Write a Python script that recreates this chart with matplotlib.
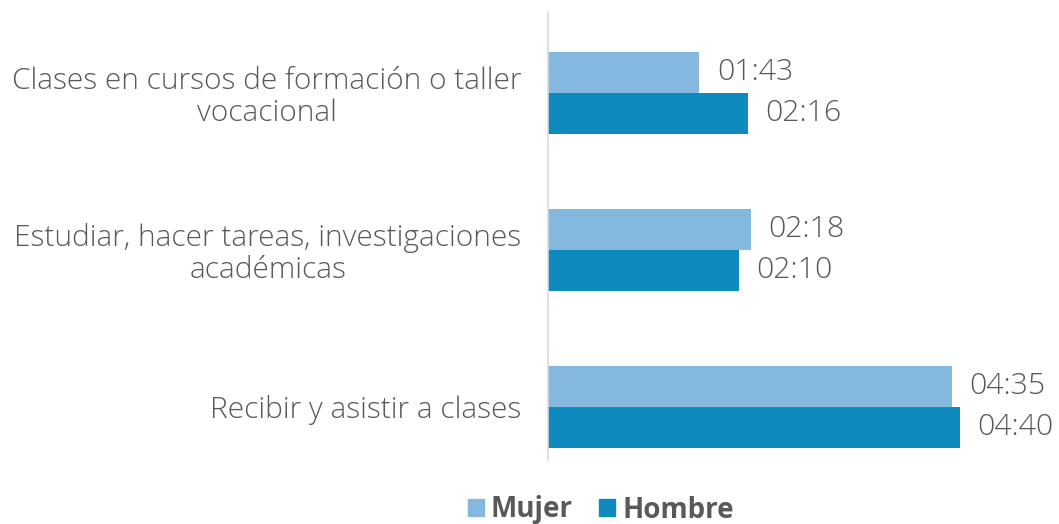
import matplotlib
matplotlib.use("Agg")
import matplotlib.pyplot as plt
from matplotlib.patches import Patch

categories = ["Recibir y asistir a clases",
              "Estudiar, hacer tareas, investigaciones\nacadémicas",
              "Clases en cursos de formación o taller\nvocacional"]
mujer_labels = ["04:35", "02:18", "01:43"]
hombre_labels = ["04:40", "02:10", "02:16"]
series_names = ["Mujer", "Hombre"]

def to_min(s):
    h, m = s.split(":")
    return int(h) * 60 + int(m)

mujer = [to_min(s) for s in mujer_labels]
hombre = [to_min(s) for s in hombre_labels]

c_muj = "#85B8DF"
c_hom = "#0E8ABE"
txt = "#595959"
font = "Open Sans"

fig = plt.figure(figsize=(10.59, 5.24), dpi=100)
ax = fig.add_axes([548/1059, 1-460/524, 441/1059, 448/524])

h = 0.261
y = list(range(len(categories)))
ax.barh([v + h/2 for v in y], mujer, height=h, color=c_muj)
ax.barh([v - h/2 for v in y], hombre, height=h, color=c_hom)

for i in y:
    ax.annotate(mujer_labels[i], (mujer[i], i + h/2), xytext=(12.5, 0),
                textcoords="offset points", ha="left", va="center",
                fontsize=21.8, color=txt, family=font, weight="light",
                annotation_clip=False)
    ax.annotate(hombre_labels[i], (hombre[i], i - h/2), xytext=(12.5, 0),
                textcoords="offset points", ha="left", va="center",
                fontsize=21.8, color=txt, family=font, weight="light",
                annotation_clip=False)

ax.set_xlim(0, 300)
ax.set_ylim(-0.338, 2.513)
ax.set_yticks(y)
ax.set_yticklabels(categories, fontsize=21.5, color=txt, family=font,
                   weight="light", multialignment="center", linespacing=1.1)
ax.tick_params(axis="y", length=0, pad=19)
ax.set_xticks([])
for s in ["top", "right", "bottom"]:
    ax.spines[s].set_visible(False)
ax.spines["left"].set_color("#D9D9D9")
ax.spines["left"].set_linewidth(1.2)

handles = [Patch(color=c_muj, label=series_names[0]),
           Patch(color=c_hom, label=series_names[1])]
leg = fig.legend(handles=handles, loc="center", bbox_to_anchor=(601/1059, 1-510/524),
                 ncol=2, frameon=False, handlelength=0.58, handleheight=0.58,
                 handletextpad=0.25, columnspacing=0.95, borderpad=0,
                 prop={"family": font, "weight": "bold", "size": 20})
for t in leg.get_texts():
    t.set_color(txt)

fig.savefig("out.png", dpi=100)
